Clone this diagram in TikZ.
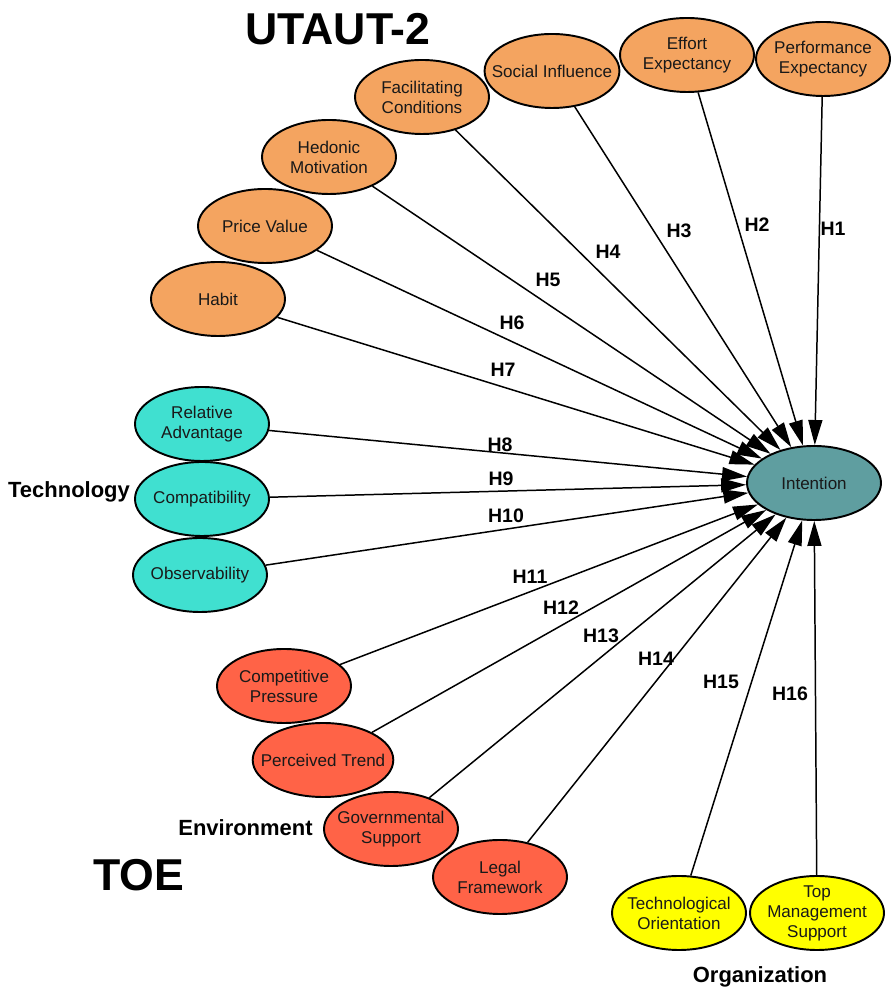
\documentclass[tikz,border=0pt]{standalone}
\usepackage{fontspec}
\setmainfont{Liberation Sans}
\usetikzlibrary{arrows.meta,shapes.geometric}
\definecolor{utcol}{HTML}{F4A460}
\definecolor{tecol}{HTML}{40E0D0}
\definecolor{encol}{HTML}{FF6347}
\definecolor{orcol}{HTML}{FFFF00}
\definecolor{incol}{HTML}{5F9EA0}

\begin{document}
\begin{tikzpicture}[
  con/.style={ellipse,draw,line width=1.1pt,minimum width=2.68cm,minimum height=1.48cm,
    inner xsep=-0.25cm,inner ysep=-0.1cm,align=center,text=black!90,
    font=\fontsize{9.7}{11.4}\selectfont},
  ut/.style={con,fill=utcol},
  te/.style={con,fill=tecol},
  en/.style={con,fill=encol},
  org/.style={con,fill=orcol},
  hyp/.style={font=\fontsize{11.1}{13}\selectfont\bfseries},
  grp/.style={font=\fontsize{12.5}{14}\selectfont\bfseries},
  big/.style={font=\fontsize{25.4}{28}\selectfont\bfseries},
  arr/.style={line width=0.85pt,-{Triangle[length=0.5cm,width=0.28cm]}}
]
  \useasboundingbox (0,0) rectangle (17.8,19.78);

  % dependent construct
  \node[con,fill=incol] (int) at (16.28,10.12) {Intention};

  % UTAUT-2
  \node[ut] (pe) at (16.46,18.60) {Performance\\Expectancy};
  \node[ut] (ee) at (13.74,18.68) {Effort\\Expectancy};
  \node[ut] (si) at (11.04,18.36) {Social Influence};
  \node[ut] (fc) at (8.44,17.84) {Facilitating\\Conditions};
  \node[ut] (hm) at (6.58,16.64) {Hedonic\\Motivation};
  \node[ut] (pv) at (5.30,15.26) {Price Value};
  \node[ut] (hb) at (4.36,13.80) {Habit};

  % TOE: technology
  \node[te] (ra) at (4.04,11.30) {Relative\\Advantage};
  \node[te] (cb) at (4.04,9.80) {Compatibility};
  \node[te] (ob) at (4.00,8.28) {Observability};

  % TOE: environment
  \node[en] (cpr) at (5.68,6.06) {Competitive\\Pressure};
  \node[en] (pt) at (6.46,4.58) {Perceived Trend};
  \node[en] (gs) at (7.82,3.20) {Governmental\\Support};
  \node[en] (lf) at (10.00,2.24) {Legal\\Framework};

  % TOE: organization
  \node[org] (tor) at (13.58,1.52) {Technological\\Orientation};
  \node[org] (tms) at (16.34,1.52) {Top\\Management\\Support};

  % group labels
  \node[big] (utaut) at (6.76,19.20) {UTAUT-2};
  \node[big] (toe) at (2.77,2.28) {TOE};
  \node[grp] (tech) at (1.38,9.94) {Technology};
  \node[grp] (env) at (4.91,3.22) {Environment};
  \node[grp] (orgl) at (15.20,0.24) {Organization};

  % hypotheses
  \draw[arr] (pe) -- (int);
  \draw[arr] (ee) -- (int);
  \draw[arr] (si) -- (int);
  \draw[arr] (fc) -- (int);
  \draw[arr] (hm) -- (int);
  \draw[arr] (pv) -- (int);
  \draw[arr] (hb) -- (int);
  \draw[arr] (ra) -- (int);
  \draw[arr] (cb) -- (int);
  \draw[arr] (ob) -- (int);
  \draw[arr] (cpr) -- (int);
  \draw[arr] (pt) -- (int);
  \draw[arr] (gs) -- (int);
  \draw[arr] (lf) -- (int);
  \draw[arr] (tor) -- (int);
  \draw[arr] (tms) -- (int);

  \node[hyp] (h1) at (16.66,15.20) {H1};
  \node[hyp] (h2) at (15.14,15.28) {H2};
  \node[hyp] (h3) at (13.58,15.16) {H3};
  \node[hyp] (h4) at (12.16,14.74) {H4};
  \node[hyp] (h5) at (10.96,14.18) {H5};
  \node[hyp] (h6) at (10.24,13.32) {H6};
  \node[hyp] (h7) at (10.06,12.38) {H7};
  \node[hyp] (h8) at (10.00,10.88) {H8};
  \node[hyp] (h9) at (10.02,10.20) {H9};
  \node[hyp] (h10) at (10.12,9.46) {H10};
  \node[hyp] (h11) at (10.60,8.24) {H11};
  \node[hyp] (h12) at (11.22,7.62) {H12};
  \node[hyp] (h13) at (12.02,7.06) {H13};
  \node[hyp] (h14) at (13.12,6.60) {H14};
  \node[hyp] (h15) at (14.42,6.14) {H15};
  \node[hyp] (h16) at (15.80,5.90) {H16};
\end{tikzpicture}
\end{document}
